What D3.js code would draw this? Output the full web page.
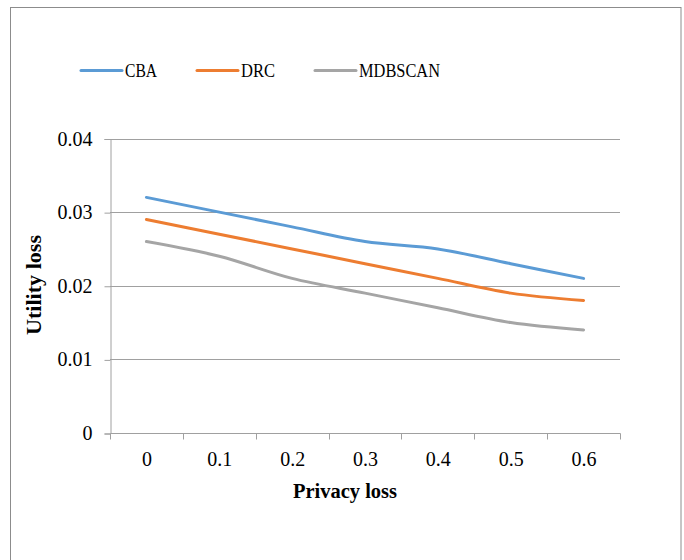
<!DOCTYPE html>
<html>
<head>
<meta charset="utf-8">
<script src="https://cdn.jsdelivr.net/npm/d3@7/dist/d3.min.js"></script>
<style>
  html, body { margin: 0; padding: 0; background: #fff; }
  svg { display: block; }
  svg text { font-family: "Liberation Serif", "Times New Roman", serif !important; fill: #000; }
</style>
</head>
<body>
<svg id="chart" width="684" height="560"></svg>
<script>
// Privacy loss levels on the x axis
const categories = ["0", "0.1", "0.2", "0.3", "0.4", "0.5", "0.6"];
// Utility loss per method
const cba = [0.032, 0.030, 0.028, 0.026, 0.025, 0.023, 0.021];
const drc = [0.029, 0.027, 0.025, 0.023, 0.021, 0.019, 0.018];
const mdbscan = [0.026, 0.024, 0.021, 0.019, 0.017, 0.015, 0.014];
const yTicks = [0, 0.01, 0.02, 0.03, 0.04];
const seriesNames = ["CBA", "DRC", "MDBSCAN"];
const seriesColors = ["#5b9bd5", "#ed7d31", "#a5a5a5"];

const serif = "'Liberation Serif', 'Times New Roman', serif";

const series = [cba, drc, mdbscan].map((vals, i) => ({
  name: seriesNames[i], color: seriesColors[i], values: vals
}));

const svg = d3.select("#chart");

// outer chart frame
svg.append("rect")
  .attr("x", 10.5).attr("y", 7.5)
  .attr("width", 670.5).attr("height", 560)
  .attr("fill", "#fff").attr("stroke", "#8c8c8c").attr("stroke-width", 1);

const plot = { left: 110, right: 620, top: 138.5, bottom: 433 };

const x = d3.scaleBand().domain(categories).range([plot.left, plot.right]).padding(0);
const y = d3.scaleLinear().domain([0, 0.04]).range([plot.bottom, plot.top]);

// horizontal gridlines
svg.append("g")
  .selectAll("line")
  .data(yTicks.filter(d => d > 0))
  .join("line")
  .attr("x1", plot.left).attr("x2", plot.right)
  .attr("y1", d => Math.round(y(d)) + 0.5).attr("y2", d => Math.round(y(d)) + 0.5)
  .attr("stroke", "#a0a0a0").attr("stroke-width", 1);

// y axis
const yAxis = svg.append("g")
  .attr("transform", `translate(${plot.left + 0.5},0.5)`)
  .call(d3.axisLeft(y).tickValues(yTicks).tickSize(6).tickPadding(12)
    .tickFormat(d => d === 0 ? "0" : d3.format(".2f")(d)));
yAxis.attr("font-family", serif).attr("font-size", 20);
yAxis.select(".domain").attr("stroke", "#a0a0a0");
yAxis.selectAll(".tick line").attr("stroke", "#a0a0a0");
yAxis.selectAll("text").style("font-family", serif).style("font-size", "20px").attr("dy", "0.3em");

// x axis with ticks on category boundaries
const xAxis = svg.append("g")
  .attr("transform", `translate(0.5,${plot.bottom + 0.5})`);
xAxis.append("line")
  .attr("x1", plot.left).attr("x2", plot.right)
  .attr("stroke", "#a0a0a0");
const boundaries = categories.map(c => x(c)).concat([x(categories[categories.length - 1]) + x.bandwidth()]);
xAxis.selectAll("line.tk")
  .data(boundaries)
  .join("line").attr("class", "tk")
  .attr("x1", d => Math.round(d)).attr("x2", d => Math.round(d))
  .attr("y1", 0).attr("y2", 6)
  .attr("stroke", "#a0a0a0");
xAxis.selectAll("text")
  .data(categories)
  .join("text")
  .attr("x", d => x(d) + x.bandwidth() / 2)
  .attr("y", 32)
  .attr("text-anchor", "middle")
  .style("font-family", serif).style("font-size", "20px")
  .text(d => d);

// axis titles
svg.append("text")
  .attr("x", 345)
  .attr("y", 498)
  .attr("text-anchor", "middle")
  .style("font-family", serif).style("font-size", "20px").attr("font-weight", "bold")
  .attr("textLength", 104).attr("lengthAdjust", "spacingAndGlyphs")
  .text("Privacy loss");

svg.append("text")
  .attr("transform", `translate(41,285) rotate(-90)`)
  .attr("text-anchor", "middle")
  .style("font-family", serif).style("font-size", "20px").attr("font-weight", "bold")
  .attr("textLength", 100).attr("lengthAdjust", "spacingAndGlyphs")
  .text("Utility loss");

// series lines
const line = d3.line()
  .x((d, i) => x(categories[i]) + x.bandwidth() / 2)
  .y(d => y(d))
  .curve(d3.curveCatmullRom.alpha(0.5));

svg.append("g")
  .selectAll("path")
  .data(series)
  .join("path")
  .attr("d", d => line(d.values))
  .attr("fill", "none")
  .attr("stroke", d => d.color)
  .attr("stroke-width", 3)
  .attr("stroke-linecap", "round")
  .attr("stroke-linejoin", "round");

// legend
const legendX = [81, 197, 315];
const legendW = [32, 34, 81];
const legend = svg.append("g").selectAll("g")
  .data(series)
  .join("g")
  .attr("transform", (d, i) => `translate(${legendX[i]},70.5)`);
legend.append("line")
  .attr("x1", 0).attr("x2", 41).attr("y1", 0).attr("y2", 0)
  .attr("stroke", d => d.color).attr("stroke-width", 3)
  .attr("stroke-linecap", "round");
legend.append("text")
  .attr("x", 44).attr("y", 6.5)
  .style("font-family", serif).style("font-size", "19px")
  .attr("textLength", (d, i) => legendW[i]).attr("lengthAdjust", "spacingAndGlyphs")
  .text(d => d.name);
</script>
</body>
</html>
